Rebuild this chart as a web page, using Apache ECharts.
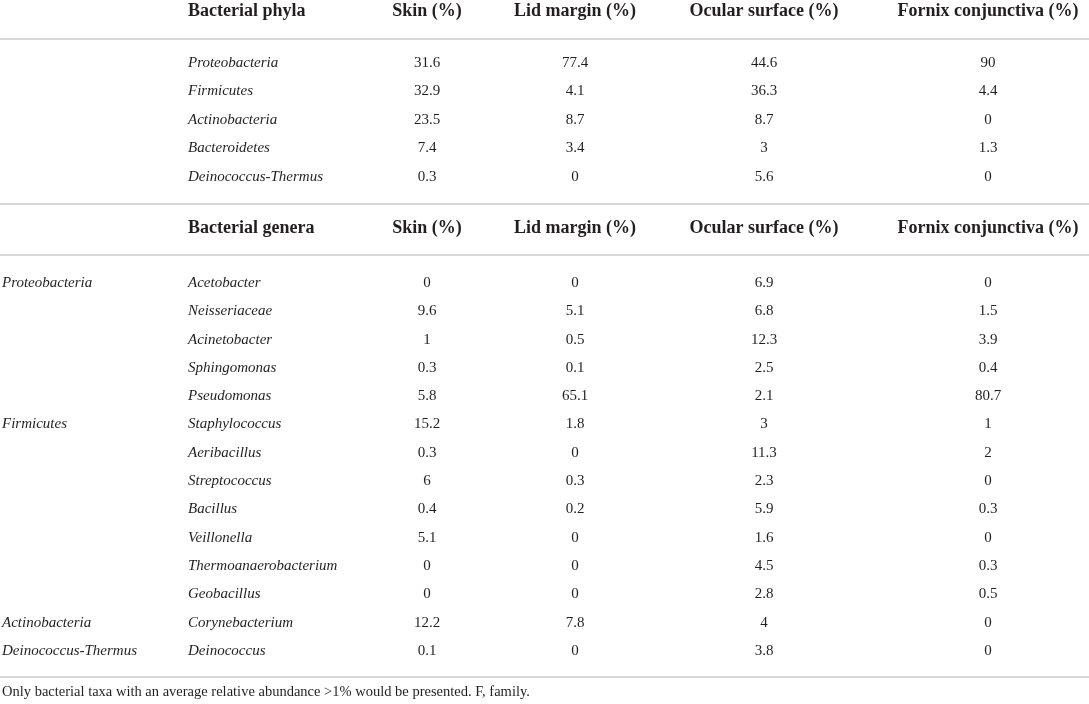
<!DOCTYPE html>
<html>
<head>
<meta charset="utf-8">
<title>Bacterial taxa relative abundance</title>
<script src="https://cdn.jsdelivr.net/npm/echarts@6.0.0/dist/echarts.min.js"></script>
<style>
  html, body { margin: 0; padding: 0; background: #fff; }
  #main { width: 1089px; height: 704px; }
</style>
</head>
<body>
<div id="main"></div>
<script>
// table data
var siteHeaders = ['Skin (%)', 'Lid margin (%)', 'Ocular surface (%)', 'Fornix conjunctiva (%)'];

var phyla = ['Proteobacteria', 'Firmicutes', 'Actinobacteria', 'Bacteroidetes', 'Deinococcus-Thermus'];
var phylaSkin = [31.6, 32.9, 23.5, 7.4, 0.3];
var phylaLid = [77.4, 4.1, 8.7, 3.4, 0];
var phylaOcular = [44.6, 36.3, 8.7, 3, 5.6];
var phylaFornix = [90, 4.4, 0, 1.3, 0];

var generaPhylum = ['Proteobacteria', '', '', '', '', 'Firmicutes', '', '', '', '', '', '', 'Actinobacteria', 'Deinococcus-Thermus'];
var genera = ['Acetobacter', 'Neisseriaceae', 'Acinetobacter', 'Sphingomonas', 'Pseudomonas', 'Staphylococcus',
  'Aeribacillus', 'Streptococcus', 'Bacillus', 'Veillonella', 'Thermoanaerobacterium', 'Geobacillus',
  'Corynebacterium', 'Deinococcus'];
var generaSkin = [0, 9.6, 1, 0.3, 5.8, 15.2, 0.3, 6, 0.4, 5.1, 0, 0, 12.2, 0.1];
var generaLid = [0, 5.1, 0.5, 0.1, 65.1, 1.8, 0, 0.3, 0.2, 0, 0, 0, 7.8, 0];
var generaOcular = [6.9, 6.8, 12.3, 2.5, 2.1, 3, 11.3, 2.3, 5.9, 1.6, 4.5, 2.8, 4, 3.8];
var generaFornix = [0, 1.5, 3.9, 0.4, 80.7, 1, 2, 0, 0.3, 0, 0.3, 0.5, 0, 0];

var footnote = 'Only bacterial taxa with an average relative abundance >1% would be presented. F, family.';

// layout (axis units = pixels of the 1089x704 page)
var groupX = 2, nameX = 188;
var siteX = [427, 575, 764, 988];
var header1Y = 11, phylaY0 = 63, phylaStep = 28.5;
var header2Y = 228, generaY0 = 283, generaStep = 28.3;
var footY = 692;
var rules = [39, 204, 255, 677];

var ink = '#231f20';
var fontFam = '"Liberation Serif", "DejaVu Serif", serif';

var cells = [];
function cell(x, y, text, kind) {
  cells.push({ x: x, y: y, text: String(text), kind: kind });
}

// first block: phyla
cell(nameX, header1Y, 'Bacterial phyla', 'head');
siteHeaders.forEach(function(h, j) { cell(siteX[j], header1Y, h, 'headC'); });
var phylaCols = [phylaSkin, phylaLid, phylaOcular, phylaFornix];
for (var i = 0; i < phyla.length; i++) {
  var y = phylaY0 + i * phylaStep;
  cell(nameX, y, phyla[i], 'ital');
  for (var j = 0; j < 4; j++) cell(siteX[j], y, phylaCols[j][i], 'num');
}

// second block: genera
cell(nameX, header2Y, 'Bacterial genera', 'head');
siteHeaders.forEach(function(h, j) { cell(siteX[j], header2Y, h, 'headC'); });
var generaCols = [generaSkin, generaLid, generaOcular, generaFornix];
for (var i = 0; i < genera.length; i++) {
  var y = generaY0 + i * generaStep;
  if (generaPhylum[i]) cell(groupX, y, generaPhylum[i], 'ital');
  cell(nameX, y, genera[i], 'ital');
  for (var j = 0; j < 4; j++) cell(siteX[j], y, generaCols[j][i], 'num');
}

cell(groupX, footY, footnote, 'foot');

var styles = {
  head:  { font: 'bold 18px ' + fontFam, align: 'left' },
  headC: { font: 'bold 18px ' + fontFam, align: 'center' },
  ital:  { font: 'italic 15px ' + fontFam, align: 'left' },
  num:   { font: '15px ' + fontFam, align: 'center' },
  foot:  { font: '14.5px ' + fontFam, align: 'left' }
};

var myChart = echarts.init(document.getElementById('main'));

var option = {
  animation: false,
  backgroundColor: '#ffffff',
  grid: { left: 0, right: 0, top: 0, bottom: 0 },
  xAxis: { type: 'value', min: 0, max: 1089, show: false },
  yAxis: { type: 'value', min: 0, max: 704, inverse: true, show: false },
  series: [
    {
      // horizontal rules
      type: 'custom',
      clip: false,
      data: rules.map(function(r) { return [0, r]; }),
      renderItem: function(params, api) {
        var a = api.coord([0, api.value(1)]);
        var b = api.coord([1089, api.value(1)]);
        return {
          type: 'line',
          shape: { x1: a[0], y1: a[1], x2: b[0], y2: b[1] },
          style: { stroke: '#c9c9c9', lineWidth: 1.5 }
        };
      }
    },
    {
      // table cells
      type: 'custom',
      clip: false,
      data: cells.map(function(c) { return [c.x, c.y]; }),
      renderItem: function(params, api) {
        var c = cells[params.dataIndex];
        var st = styles[c.kind];
        var p = api.coord([api.value(0), api.value(1)]);
        return {
          type: 'text',
          x: p[0],
          y: p[1],
          style: {
            text: c.text,
            font: st.font,
            fill: ink,
            align: st.align,
            verticalAlign: 'middle'
          }
        };
      }
    }
  ]
};

myChart.setOption(option);
</script>
</body>
</html>
